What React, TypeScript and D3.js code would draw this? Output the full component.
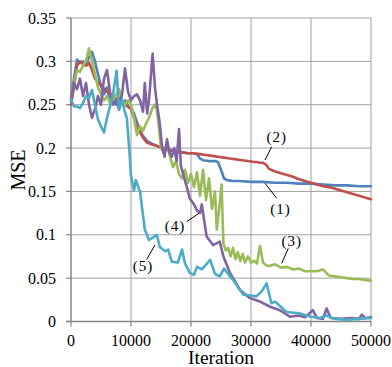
import React from 'react';
import * as d3 from 'd3';

// MSE over training iterations, five runs: [iteration, mse]
const run1: [number, number][] = [
  [0, 0.26], [500, 0.28], [1000, 0.302], [1500, 0.298], [2000, 0.3], [2500, 0.296], [3000, 0.305],
  [3500, 0.311], [4000, 0.3], [4500, 0.285], [5000, 0.272], [5500, 0.262], [6000, 0.27], [6500, 0.255],
  [7000, 0.262], [7500, 0.25], [8000, 0.258], [8500, 0.252], [9000, 0.255], [9500, 0.248], [10000, 0.246],
  [10500, 0.24], [11000, 0.23], [11500, 0.22], [12000, 0.214], [12700, 0.208], [13500, 0.205],
  [14500, 0.202], [15500, 0.2], [16500, 0.198], [17500, 0.196], [18500, 0.195], [19500, 0.194],
  [20500, 0.194], [21000, 0.193], [21500, 0.188], [22000, 0.186], [23000, 0.185], [24000, 0.185],
  [24500, 0.184], [25000, 0.175], [25500, 0.165], [26000, 0.163], [27000, 0.162], [28000, 0.162],
  [30000, 0.161], [32000, 0.161], [34000, 0.16], [36000, 0.16], [38000, 0.159], [40000, 0.159],
  [42000, 0.158], [44000, 0.157], [46000, 0.157], [48000, 0.156], [50000, 0.156],
];

const run2: [number, number][] = [
  [0, 0.25], [500, 0.27], [1000, 0.295], [1500, 0.3], [2000, 0.297], [2500, 0.295], [3000, 0.298],
  [3500, 0.29], [4000, 0.28], [5000, 0.272], [6000, 0.265], [7000, 0.26], [8000, 0.255], [9000, 0.25],
  [10000, 0.245], [10500, 0.235], [11000, 0.225], [11500, 0.218], [12000, 0.212], [12700, 0.206],
  [13500, 0.204], [14500, 0.202], [15500, 0.199], [16500, 0.197], [17500, 0.196], [18500, 0.195],
  [19500, 0.194], [20500, 0.194], [21500, 0.193], [22500, 0.192], [23500, 0.191], [24500, 0.19],
  [25500, 0.189], [26500, 0.188], [27500, 0.187], [28500, 0.186], [29500, 0.185], [30500, 0.184],
  [31000, 0.184], [31500, 0.183], [32000, 0.183], [32500, 0.181], [33000, 0.176], [34000, 0.173],
  [35000, 0.171], [36000, 0.169], [37000, 0.167], [38000, 0.164], [39000, 0.162], [40000, 0.16],
  [41000, 0.158], [42000, 0.156], [43000, 0.155], [44000, 0.153], [45000, 0.151], [46000, 0.149],
  [47000, 0.147], [48000, 0.145], [49000, 0.143], [50000, 0.141],
];

const run3: [number, number][] = [
  [0, 0.26], [500, 0.275], [1000, 0.29], [1500, 0.288], [2000, 0.295], [2500, 0.3], [3000, 0.315],
  [3500, 0.3], [4000, 0.285], [4500, 0.27], [5000, 0.262], [5500, 0.255], [6000, 0.26], [6500, 0.252],
  [7000, 0.255], [7500, 0.262], [8000, 0.268], [8500, 0.255], [9000, 0.25], [9500, 0.255], [10000, 0.25],
  [10500, 0.235], [11000, 0.215], [11500, 0.225], [12000, 0.22], [12500, 0.228], [13000, 0.235],
  [13500, 0.245], [14000, 0.25], [14300, 0.245], [14700, 0.22], [15000, 0.2], [15500, 0.195],
  [16000, 0.205], [16500, 0.19], [17000, 0.178], [17500, 0.185], [18000, 0.17], [18500, 0.165],
  [19000, 0.175], [19500, 0.16], [20000, 0.17], [20500, 0.155], [21000, 0.172], [21500, 0.145],
  [22000, 0.175], [22500, 0.14], [23000, 0.165], [23500, 0.13], [24000, 0.15], [24300, 0.106],
  [24700, 0.13], [25100, 0.158], [25400, 0.09], [25800, 0.082], [26200, 0.085], [26600, 0.075],
  [27000, 0.085], [27400, 0.072], [27800, 0.08], [28200, 0.07], [28600, 0.078], [29000, 0.068],
  [29500, 0.075], [30000, 0.068], [30500, 0.07], [31000, 0.067], [31500, 0.087], [32000, 0.068],
  [32500, 0.065], [33000, 0.064], [34000, 0.066], [35000, 0.062], [36000, 0.063], [37000, 0.06],
  [38000, 0.061], [39000, 0.058], [40000, 0.058], [41000, 0.058], [42000, 0.06], [43000, 0.053],
  [44000, 0.052], [45000, 0.051], [46000, 0.05], [47000, 0.049], [48000, 0.049], [49000, 0.048],
  [50000, 0.047],
];

const run4: [number, number][] = [
  [0, 0.255], [500, 0.275], [1000, 0.268], [1500, 0.28], [2000, 0.26], [2500, 0.275], [3000, 0.25],
  [3500, 0.235], [4000, 0.245], [4500, 0.26], [5000, 0.25], [5500, 0.28], [6000, 0.29], [6500, 0.265],
  [7000, 0.25], [7500, 0.255], [8000, 0.245], [8500, 0.262], [9000, 0.292], [9500, 0.265],
  [10000, 0.255], [10500, 0.26], [11000, 0.262], [11500, 0.255], [12000, 0.242], [12300, 0.275],
  [12700, 0.24], [13000, 0.255], [13600, 0.309], [14000, 0.27], [14300, 0.252], [14800, 0.228],
  [15200, 0.2], [15600, 0.19], [16000, 0.21], [16400, 0.195], [16800, 0.19], [17200, 0.2],
  [17600, 0.185], [18000, 0.222], [18300, 0.18], [18700, 0.17], [19300, 0.155], [19800, 0.142],
  [20500, 0.135], [21000, 0.128], [21500, 0.125], [21800, 0.135], [22600, 0.098], [23700, 0.088],
  [24800, 0.092], [25400, 0.075], [26500, 0.056], [28200, 0.036], [29800, 0.027], [31500, 0.023],
  [33200, 0.017], [34800, 0.013], [36500, 0.0055], [38000, 0.007], [39000, 0.005], [40300, 0.013],
  [41000, 0.004], [42000, 0.003], [42600, 0.015], [43300, 0.004], [45000, 0.003], [46700, 0.004],
  [48000, 0.003], [48500, 0.008], [49000, 0.004], [50000, 0.005],
];

const run5: [number, number][] = [
  [0, 0.256], [500, 0.248], [1000, 0.248], [1500, 0.246], [2000, 0.252], [2500, 0.26], [3000, 0.258],
  [3500, 0.267], [4000, 0.25], [4500, 0.233], [5000, 0.225], [5500, 0.218], [6000, 0.235],
  [6500, 0.248], [7000, 0.262], [7600, 0.289], [8000, 0.244], [8500, 0.255], [9000, 0.241],
  [9300, 0.235], [9700, 0.2], [10000, 0.168], [10500, 0.151], [10800, 0.163], [11500, 0.15],
  [12300, 0.106], [13000, 0.094], [13700, 0.097], [14300, 0.1], [14800, 0.086], [15700, 0.081],
  [16200, 0.083], [16800, 0.069], [17800, 0.068], [18500, 0.083], [19000, 0.067], [19800, 0.056],
  [20500, 0.054], [21000, 0.063], [21800, 0.06], [23200, 0.071], [24000, 0.055], [24800, 0.052],
  [25500, 0.061], [27000, 0.048], [28700, 0.031], [30000, 0.03], [30900, 0.029], [31800, 0.035],
  [32600, 0.044], [33400, 0.021], [34000, 0.023], [35900, 0.011], [38000, 0.0095], [40000, 0.0055],
  [41500, 0.004], [42500, 0.007], [44000, 0.003], [46000, 0.002], [48000, 0.003], [50000, 0.004],
];

const xTicks = [0, 10000, 20000, 30000, 40000, 50000];
const yTicks = [0, 0.05, 0.1, 0.15, 0.2, 0.25, 0.3, 0.35];

// drawing order: later ones end up on top
const runs = [
  { data: run1, color: '#4f81bd' },
  { data: run2, color: '#c0504d' },
  { data: run3, color: '#9bbb59' },
  { data: run4, color: '#8064a2' },
  { data: run5, color: '#4bacc6' },
];

// label text position and leader line (from -> to), in data units
const labels = [
  { text: '(1)', at: [34900, 0.1297], from: [34283, 0.1421], to: [32333, 0.1594] },
  { text: '(2)', at: [34283, 0.2131], from: [33450, 0.2016], to: [32333, 0.1862] },
  { text: '(3)', at: [36783, 0.0931], from: [36217, 0.0844], to: [35117, 0.0671] },
  { text: '(4)', at: [17333, 0.1107], from: [19283, 0.1151], to: [21333, 0.1248] },
  { text: '(5)', at: [12000, 0.0637], from: [12617, 0.0717], to: [14000, 0.0882] },
];

const W = 392;
const H = 367;
const margin = { top: 18, right: 21, bottom: 45.5, left: 71 };
const font = '"Liberation Serif", "Times New Roman", serif';

export default function App() {
  const x = d3.scaleLinear().domain([0, 50000]).range([margin.left, W - margin.right]);
  const y = d3.scaleLinear().domain([0, 0.35]).range([H - margin.bottom, margin.top]);
  const line = d3.line<[number, number]>().x(d => x(d[0])).y(d => y(d[1]));
  const x0 = x(0), x1 = x(50000), y0 = y(0), y1 = y(0.35);

  return (
    <svg width={W} height={H} style={{ position: 'absolute', left: 0, top: 0, background: '#fff' }}>
      {/* grid */}
      {yTicks.filter(t => t > 0).map(t => (
        <line key={'gy' + t} x1={x0} x2={x1} y1={y(t)} y2={y(t)} stroke="#a0a0a0" strokeWidth={1} />
      ))}
      {xTicks.filter(t => t > 0).map(t => (
        <line key={'gx' + t} x1={x(t)} x2={x(t)} y1={y0} y2={y1} stroke="#a0a0a0" strokeWidth={1} />
      ))}

      {/* axes */}
      <line x1={x0} x2={x0} y1={y1} y2={y0} stroke="#868686" strokeWidth={1.5} />
      <line x1={x0 - 5} x2={x1} y1={y0} y2={y0} stroke="#868686" strokeWidth={1.5} />
      {yTicks.map(t => (
        <line key={'ty' + t} x1={x0 - 5} x2={x0} y1={y(t)} y2={y(t)} stroke="#868686" strokeWidth={1.2} />
      ))}
      {xTicks.map(t => (
        <line key={'tx' + t} x1={x(t)} x2={x(t)} y1={y0} y2={y0 + 5} stroke="#868686" strokeWidth={1.2} />
      ))}

      {/* series */}
      {runs.map((r, i) => (
        <path key={i} d={line(r.data) || ''} fill="none" stroke={r.color} strokeWidth={2.6}
          strokeLinejoin="round" strokeLinecap="round" />
      ))}

      {/* annotations */}
      {labels.map(l => (
        <g key={l.text}>
          <line x1={x(l.from[0])} y1={y(l.from[1])} x2={x(l.to[0])} y2={y(l.to[1])} stroke="#000" strokeWidth={1} />
          <text x={x(l.at[0])} y={y(l.at[1]) + 5} textAnchor="middle" fontFamily={font} fontSize={15}
            letterSpacing={1}>{l.text}</text>
        </g>
      ))}

      {/* tick labels */}
      {yTicks.map(t => (
        <text key={'ly' + t} x={56} y={y(t) + 5.5} textAnchor="end" fontFamily={font} fontSize={16}>
          {t === 0 ? '0' : String(+t.toFixed(2))}
        </text>
      ))}
      {xTicks.map(t => (
        <text key={'lx' + t} x={x(t)} y={345.5} textAnchor="middle" fontFamily={font} fontSize={16}>{t}</text>
      ))}

      <text x={(x0 + x1) / 2} y={364} textAnchor="middle" fontFamily={font} fontSize={19.5}>Iteration</text>
      <text transform={`translate(25,170) rotate(-90)`} textAnchor="middle" fontFamily={font} fontSize={20}>MSE</text>
    </svg>
  );
}
